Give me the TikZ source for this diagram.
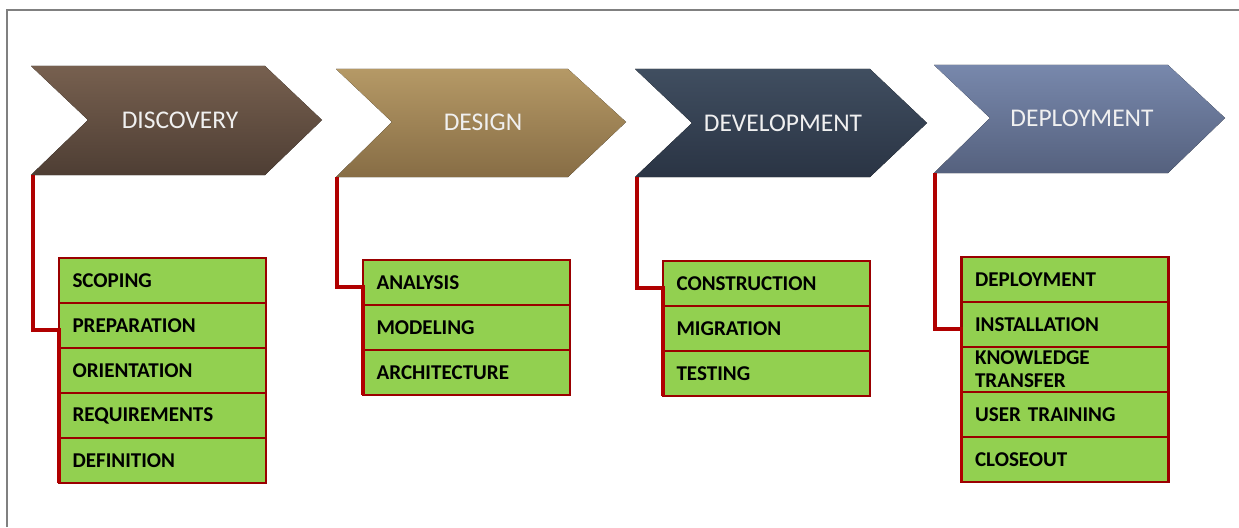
\documentclass[tikz,border=0pt]{standalone}
\usepackage{fontspec}
\setmainfont{Carlito}
\usetikzlibrary{positioning}

\definecolor{discTop}{HTML}{77604F}
\definecolor{discBot}{HTML}{4E3E34}
\definecolor{desTop}{HTML}{B59966}
\definecolor{desBot}{HTML}{876D45}
\definecolor{devTop}{HTML}{404E60}
\definecolor{devBot}{HTML}{2A3444}
\definecolor{depTop}{HTML}{7888AC}
\definecolor{depBot}{HTML}{55617E}
\definecolor{taskgreen}{HTML}{92D050}
\definecolor{taskred}{HTML}{9A0000}
\definecolor{linkred}{HTML}{B00000}

\tikzset{
  phase/.style={font=\fontsize{14.5}{16}\selectfont, text=white!88!gray},
  task/.style={draw=taskred, line width=1.5pt, fill=taskgreen, minimum width=4.14cm,
    minimum height=0.9cm, text width=3.6cm, align=left, inner xsep=0.27cm, inner ysep=0pt,
    outer sep=0pt, font=\bfseries\fontsize{12}{13}\selectfont},
  link/.style={draw=linkred, line width=1.9pt}
}

\begin{document}
\begin{tikzpicture}[x=0.02cm,y=-0.02cm]
\useasboundingbox (0,0) rectangle (1239,527);
\draw[gray, line width=0.8pt] (7,527) -- (7,10) -- (1239,10);

\fill[top color=discTop,bottom color=discBot,shading=axis] (31,66) -- (265,66) -- (322,120) -- (265,175) -- (31,175) -- (88,120) -- cycle;
\fill[top color=desTop,bottom color=desBot,shading=axis] (336,69) -- (568,69) -- (626,122) -- (568,177) -- (336,177) -- (392,122) -- cycle;
\fill[top color=devTop,bottom color=devBot,shading=axis] (635,69) -- (870,69) -- (927,123) -- (870,177) -- (635,177) -- (692,123) -- cycle;
\fill[top color=depTop,bottom color=depBot,shading=axis] (934,65) -- (1168,65) -- (1225,118) -- (1168,173) -- (934,173) -- (990,118) -- cycle;

\node [phase] (disc) at (180,120) {DISCOVERY};
\node [phase] (des) at (483,122) {DESIGN};
\node [phase] (dev) at (783,123) {DEVELOPMENT};
\node [phase] (dep) at (1082,118) {DEPLOYMENT};

\coordinate (disc-sw) at (33,175);
\coordinate (des-sw) at (337,177);
\coordinate (dev-sw) at (637,177);
\coordinate (dep-sw) at (935,173);

\node [task, anchor=north] (scop) at (162.5,258) {SCOPING};
\node [task, below=0pt of scop] (prep) {PREPARATION};
\node [task, below=0pt of prep] (orie) {ORIENTATION};
\node [task, below=0pt of orie] (reqs) {REQUIREMENTS};
\node [task, below=0pt of reqs] (defn) {DEFINITION};

\node [task, anchor=north] (anal) at (466.5,260) {ANALYSIS};
\node [task, below=0pt of anal] (mode) {MODELING};
\node [task, below=0pt of mode] (arch) {ARCHITECTURE};

\node [task, anchor=north] (cons) at (766.5,261) {CONSTRUCTION};
\node [task, below=0pt of cons] (migr) {MIGRATION};
\node [task, below=0pt of migr] (test) {TESTING};

\node [task, anchor=north] (depl) at (1065,257) {DEPLOYMENT};
\node [task, below=0pt of depl] (inst) {INSTALLATION};
\node [task, below=0pt of inst] (know) {KNOWLEDGE\\TRANSFER};
\node [task, below=0pt of know] (user) {USER TRAINING};
\node [task, below=0pt of user] (clos) {CLOSEOUT};

\draw [link] (disc-sw) |- ([yshift=-2.5pt]prep.west) -- (defn.south west);
\draw [link] (des-sw) |- ([yshift=-2.5pt]anal.west) -- (arch.south west);
\draw [link] (dev-sw) |- ([yshift=-2.5pt]cons.west) -- (test.south west);
\draw [link] (dep-sw) |- ([yshift=-2.5pt]inst.west) -- (clos.south west);

\end{tikzpicture}
\end{document}
